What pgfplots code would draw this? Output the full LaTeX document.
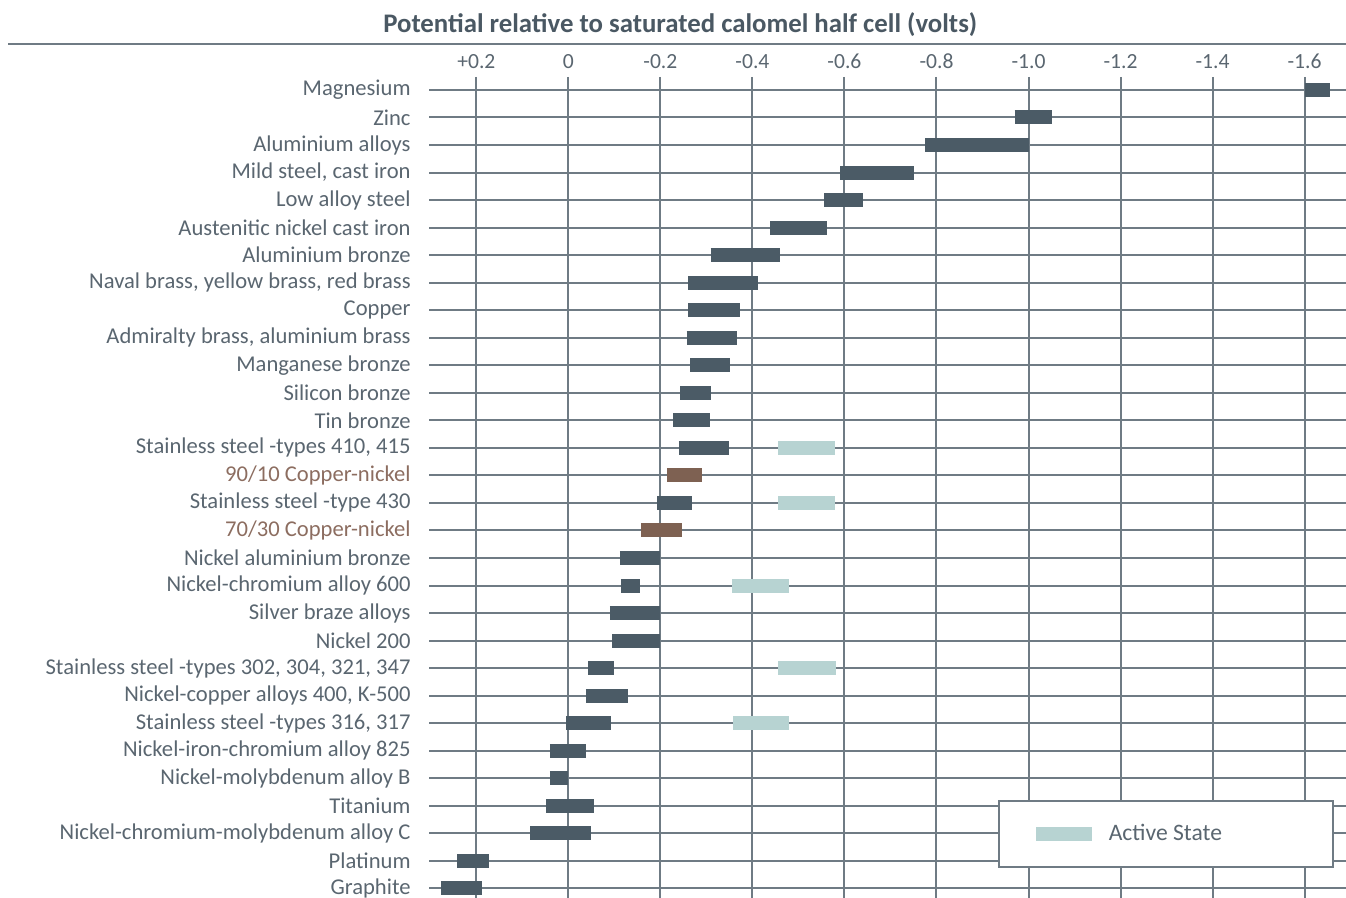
\documentclass[border=0pt]{standalone}
\usepackage{pgfplots}
\pgfplotsset{compat=1.18}
\usepackage{pgfplotstable}
\usepackage{fontspec}
\setmainfont{Carlito}

\definecolor{textc}{HTML}{5A6670}
\definecolor{titlec}{HTML}{4A5863}
\definecolor{barc}{HTML}{4B5B66}
\definecolor{brownc}{HTML}{7E6152}
\definecolor{brownlab}{HTML}{8C6D60}
\definecolor{activec}{HTML}{B7D3D2}
\definecolor{gridc}{HTML}{6F7B84}

% bar ends (volts) and row; nan rows split the segments
\pgfplotstableread{
x y
-1.600 0
-1.655 0
nan nan
-0.970 1
-1.050 1
nan nan
-0.776 2
-1.002 2
nan nan
-0.591 3
-0.752 3
nan nan
-0.556 4
-0.641 4
nan nan
-0.439 5
-0.561 5
nan nan
-0.309 6
-0.459 6
nan nan
-0.261 7
-0.411 7
nan nan
-0.261 8
-0.372 8
nan nan
-0.257 9
-0.367 9
nan nan
-0.265 10
-0.352 10
nan nan
-0.243 11
-0.309 11
nan nan
-0.228 12
-0.307 12
nan nan
-0.240 13
-0.350 13
nan nan
-0.193 15
-0.269 15
nan nan
-0.112 17
-0.200 17
nan nan
-0.114 18
-0.156 18
nan nan
-0.090 19
-0.200 19
nan nan
-0.095 20
-0.200 20
nan nan
-0.043 21
-0.099 21
nan nan
-0.038 22
-0.130 22
nan nan
0.005 23
-0.093 23
nan nan
0.040 24
-0.038 24
nan nan
0.040 25
0.000 25
nan nan
0.048 26
-0.056 26
nan nan
0.083 27
-0.049 27
nan nan
0.242 28
0.172 28
nan nan
0.277 29
0.188 29
}\darkbars

\pgfplotstableread{
x y
-0.214 14
-0.290 14
nan nan
-0.158 16
-0.247 16
}\copperbars

\pgfplotstableread{
x y
-0.456 13
-0.580 13
nan nan
-0.456 15
-0.580 15
nan nan
-0.356 18
-0.480 18
nan nan
-0.456 21
-0.582 21
nan nan
-0.358 23
-0.480 23
}\activebars

\begin{document}
\begin{tikzpicture}
\begin{axis}[
    name=ax,
    scale only axis,
    width=458.5pt, height=410.5pt,
    clip=false,
    x dir=reverse, y dir=reverse,
    xmin=-1.69, xmax=0.303,
    ymin=-0.47, ymax=29.35,
    axis line style={draw=none},
    major tick length=0pt,
    grid=major,
    grid style={draw=gridc, line width=1pt},
    xtick={0.2,0,-0.2,-0.4,-0.6,-0.8,-1.0,-1.2,-1.4,-1.6},
    xticklabels={+0.2,0,-0.2,-0.4,-0.6,-0.8,-1.0,-1.2,-1.4,-1.6},
    xticklabel pos=top,
    xticklabel style={font=\fontsize{10.8}{12}\selectfont, text=textc, inner sep=0pt, yshift=4pt},
    ytick={0,...,29},
    yticklabels={Magnesium,Zinc,Aluminium alloys,{Mild steel, cast iron},Low alloy steel,Austenitic nickel cast iron,Aluminium bronze,{Naval brass, yellow brass, red brass},Copper,{Admiralty brass, aluminium brass},Manganese bronze,Silicon bronze,Tin bronze,{Stainless steel -types 410, 415},\textcolor{brownlab}{90/10 Copper-nickel},Stainless steel -type 430,\textcolor{brownlab}{70/30 Copper-nickel},Nickel aluminium bronze,Nickel-chromium alloy 600,Silver braze alloys,Nickel 200,{Stainless steel -types 302, 304, 321, 347},{Nickel-copper alloys 400, K-500},{Stainless steel -types 316, 317},Nickel-iron-chromium alloy 825,Nickel-molybdenum alloy B,Titanium,Nickel-chromium-molybdenum alloy C,Platinum,Graphite},
    yticklabel style={font=\fontsize{11.3}{13}\selectfont, text=textc, inner sep=0pt, xshift=-9pt},
    unbounded coords=jump,
    legend style={at={(axis description cs:0.987,0.037)}, anchor=south east,
        draw=gridc, line width=1pt, fill=white, inner xsep=18.5pt, inner ysep=11.5pt,
        nodes={inner sep=0pt, text=textc, font=\fontsize{11.8}{13}\selectfont},
        column sep=8.5pt},
    legend image code/.code={\path[fill=activec, draw=none] (0pt,-3.5pt) rectangle (28pt,3.5pt);},
]
\addplot[draw=barc, line width=7pt, mark=none, forget plot] table[x=x, y=y] {\darkbars};
\addplot[draw=brownc, line width=7pt, mark=none, forget plot] table[x=x, y=y] {\copperbars};
\addplot[draw=activec, line width=7pt, mark=none] table[x=x, y=y] {\activebars};
\addlegendentry{Active State\hspace*{37pt}}
\draw[gridc, line width=1pt] (axis description cs:-0.459,1.040) -- (axis description cs:1,1.040);
\node[font=\bfseries\fontsize{13.4}{15}\selectfont, text=titlec, anchor=center]
    at (axis description cs:0.274,1.064) {Potential relative to saturated calomel half cell (volts)};
\end{axis}
\pgfresetboundingbox
\path ([xshift=-214.5pt]ax.south west) rectangle ([yshift=38.5pt]ax.north east);
\end{tikzpicture}
\end{document}
